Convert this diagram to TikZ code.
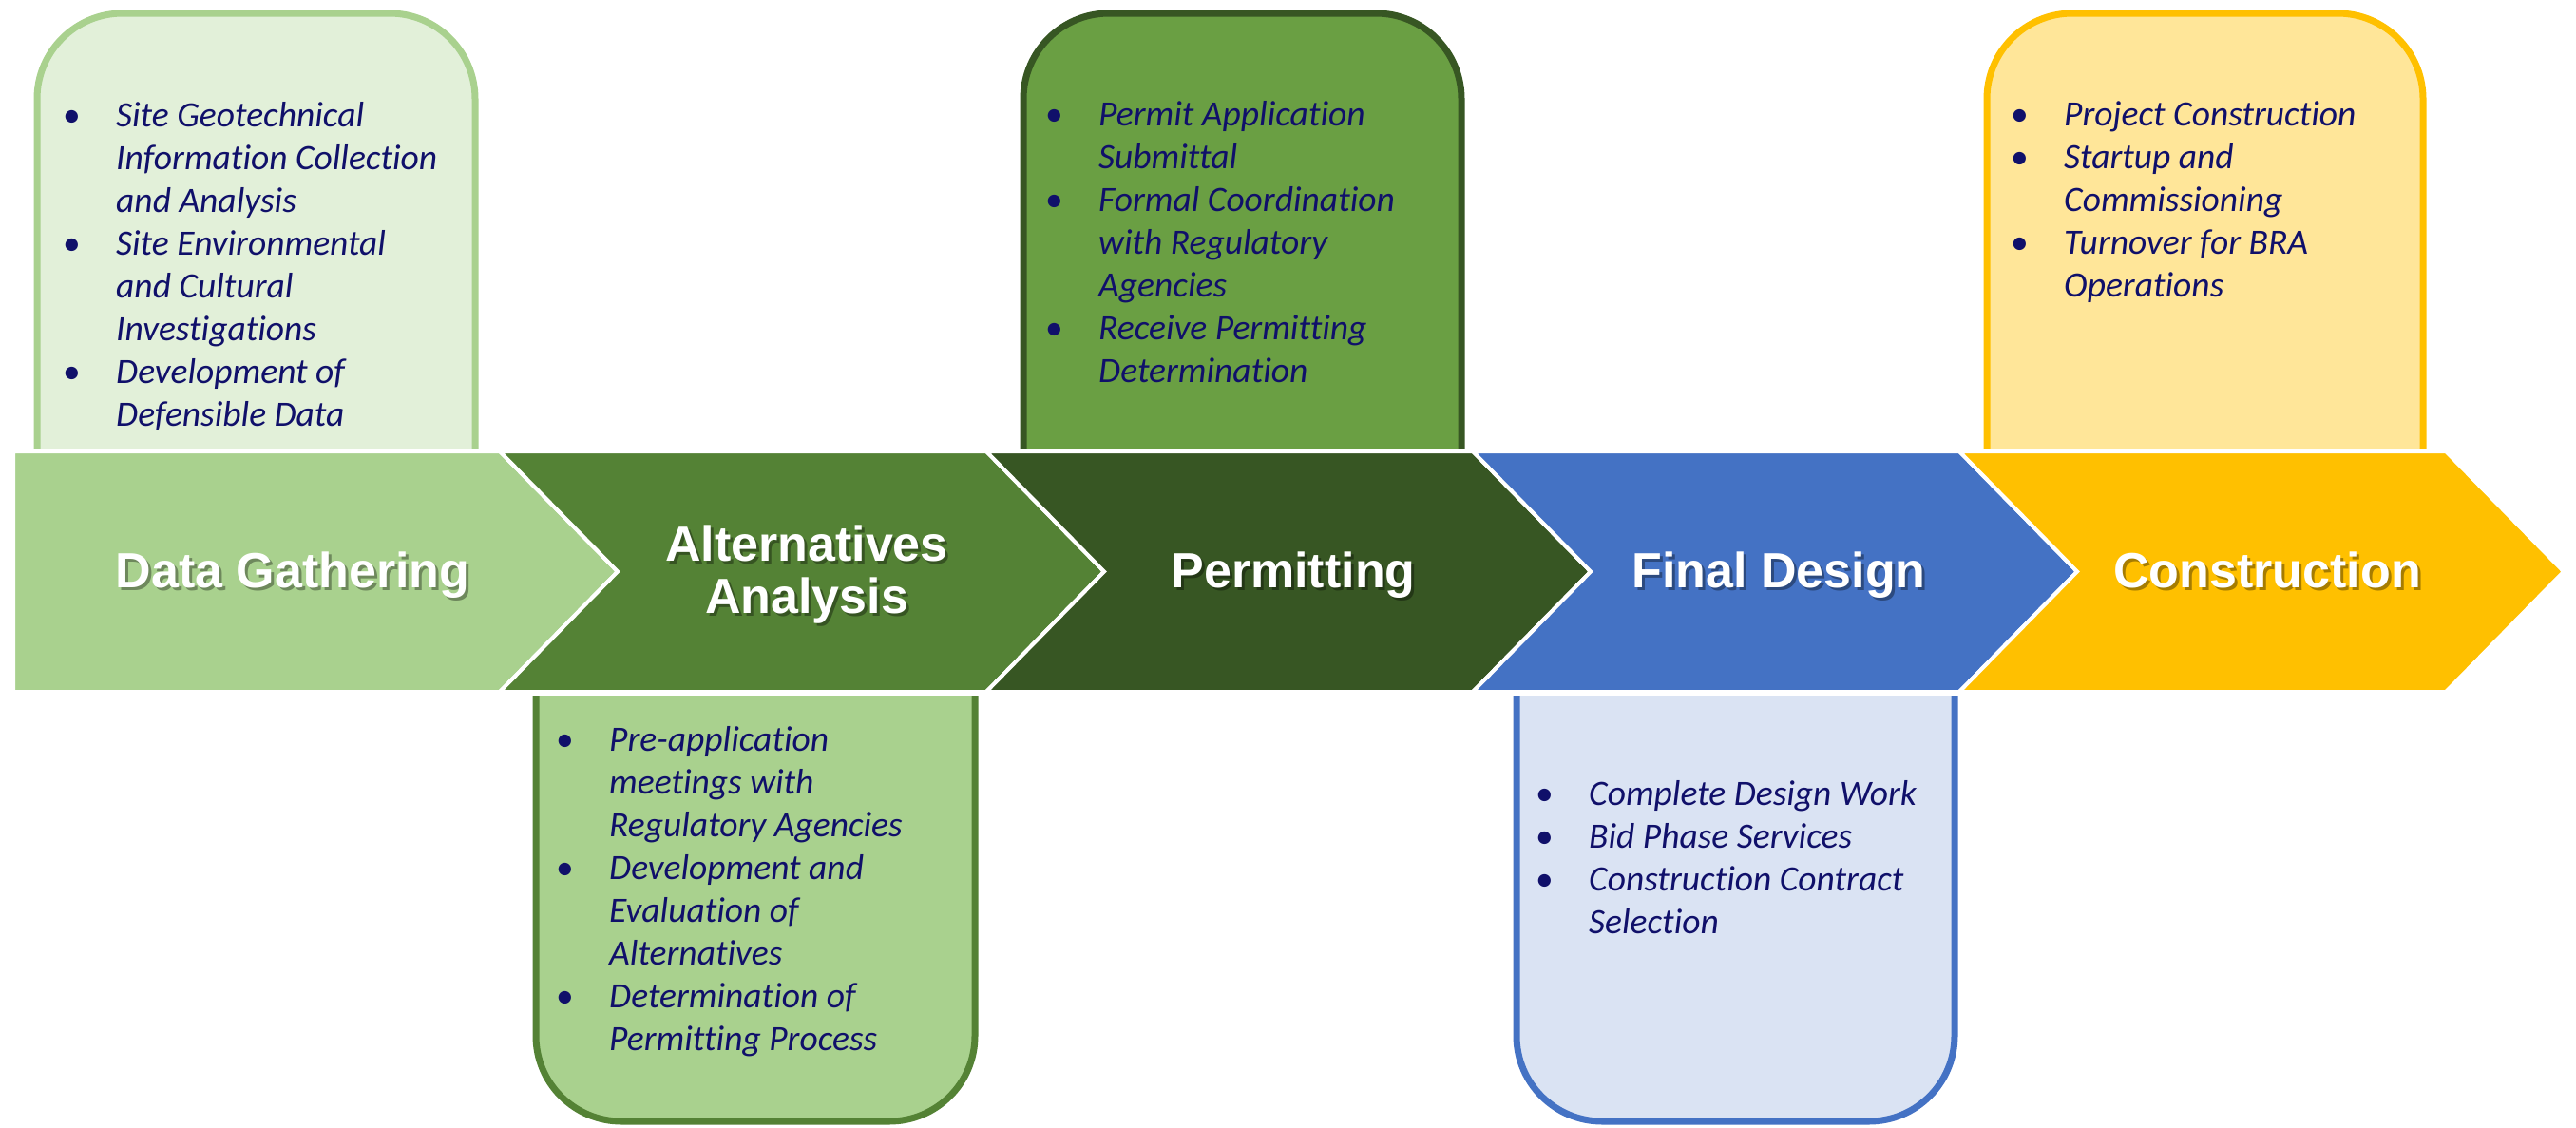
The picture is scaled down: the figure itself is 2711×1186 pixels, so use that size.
\documentclass[tikz,border=0pt]{standalone}
\usepackage{fontspec}
\setmainfont{Carlito}[Ligatures={NoCommon}]
\newfontfamily\titlefont{Liberation Sans}
\definecolor{cA}{HTML}{A9D18E}
\definecolor{cB}{HTML}{548235}
\definecolor{cC}{HTML}{375623}
\definecolor{cD}{HTML}{4472C4}
\definecolor{cE}{HTML}{FFC000}
\definecolor{fA}{HTML}{E2F0D9}
\definecolor{fC}{HTML}{6A9F43}
\definecolor{fD}{HTML}{DAE3F3}
\definecolor{fE}{HTML}{FFE699}
\definecolor{txt}{HTML}{10106A}
\newcommand\blt{\makebox[56pt][l]{\upshape •}}
\newcommand\itemlist[1]{\begin{tabular}[t]{@{}l@{}l@{}}#1\end{tabular}}
\tikzset{
  chev/.style={draw=white, line width=4, line join=miter},
  infobox/.style={line width=7, rounded corners=90},
  ttl/.style={anchor=base, inner sep=0, text=white, font=\titlefont\bfseries\fontsize{52}{56}\selectfont},
  ttlshadow/.style={ttl, text=black, text opacity=0.35},
  items/.style={anchor=base west, inner sep=0, text=txt, font=\itshape\fontsize{37.5}{45}\selectfont},
}
\newcommand\ttl[4]{%
  \node[ttlshadow] (#1s) at (#2+3,#3+3) {#4};
  \node[ttl] (#1) at (#2,#3) {#4};}
\begin{document}
\begin{tikzpicture}[x=1pt,y=-1pt]
\useasboundingbox (0,0) rectangle (2711,1186);
% info boxes
\filldraw[infobox, fill=fA, draw=cA] (39,472) -- (39,14) -- (500,14) -- (500,472);
\filldraw[infobox, fill=cA, draw=cB] (564,732) -- (564,1180) -- (1026,1180) -- (1026,732);
\filldraw[infobox, fill=fC, draw=cC] (1077,472) -- (1077,14) -- (1538,14) -- (1538,472);
\filldraw[infobox, fill=fD, draw=cD] (1596,732) -- (1596,1180) -- (2057,1180) -- (2057,732);
\filldraw[infobox, fill=fE, draw=cE] (2091,472) -- (2091,14) -- (2550,14) -- (2550,472);
% chevrons
\filldraw[chev, fill=cA] (14,475) -- (526,475) -- (650,601.5) -- (526,728) -- (14,728) -- cycle;
\filldraw[chev, fill=cB] (526,475) -- (1038,475) -- (1162,601.5) -- (1038,728) -- (526,728) -- (650,601.5) -- cycle;
\filldraw[chev, fill=cC] (1038,475) -- (1550,475) -- (1674,601.5) -- (1550,728) -- (1038,728) -- (1162,601.5) -- cycle;
\filldraw[chev, fill=cD] (1550,475) -- (2062,475) -- (2186,601.5) -- (2062,728) -- (1550,728) -- (1674,601.5) -- cycle;
\filldraw[chev, fill=cE] (2062,475) -- (2574,475) -- (2698,601.5) -- (2574,728) -- (2062,728) -- (2186,601.5) -- cycle;
% titles
\ttl{t1}{308}{618}{Data Gathering}
\ttl{t2a}{849}{590}{Alternatives}
\ttl{t2b}{849}{645}{Analysis}
\ttl{t3}{1361}{618}{Permitting}
\ttl{t4}{1872}{618}{Final Design}
\ttl{t5}{2386}{618}{Construction}
% item lists
\node[items] (l1) at (66,133) {\itemlist{%
\blt & Site Geotechnical\\
 & Information Collection\\
 & and Analysis\\
\blt & Site Environmental\\
 & and Cultural\\
 & Investigations\\
\blt & Development of\\
 & Defensible Data}};
\node[items] (l2) at (585,790) {\itemlist{%
\blt & Pre-application\\
 & meetings with\\
 & Regulatory Agencies\\
\blt & Development and\\
 & Evaluation of\\
 & Alternatives\\
\blt & Determination of\\
 & Permitting Process}};
\node[items] (l3) at (1100,132) {\itemlist{%
\blt & Permit Application\\
 & Submittal\\
\blt & Formal Coordination\\
 & with Regulatory\\
 & Agencies\\
\blt & Receive Permitting\\
 & Determination}};
\node[items] (l4) at (1616,847) {\itemlist{%
\blt & Complete Design Work\\
\blt & Bid Phase Services\\
\blt & Construction Contract\\
 & Selection}};
\node[items] (l5) at (2116,132) {\itemlist{%
\blt & Project Construction\\
\blt & Startup and\\
 & Commissioning\\
\blt & Turnover for BRA\\
 & Operations}};
\end{tikzpicture}
\end{document}
